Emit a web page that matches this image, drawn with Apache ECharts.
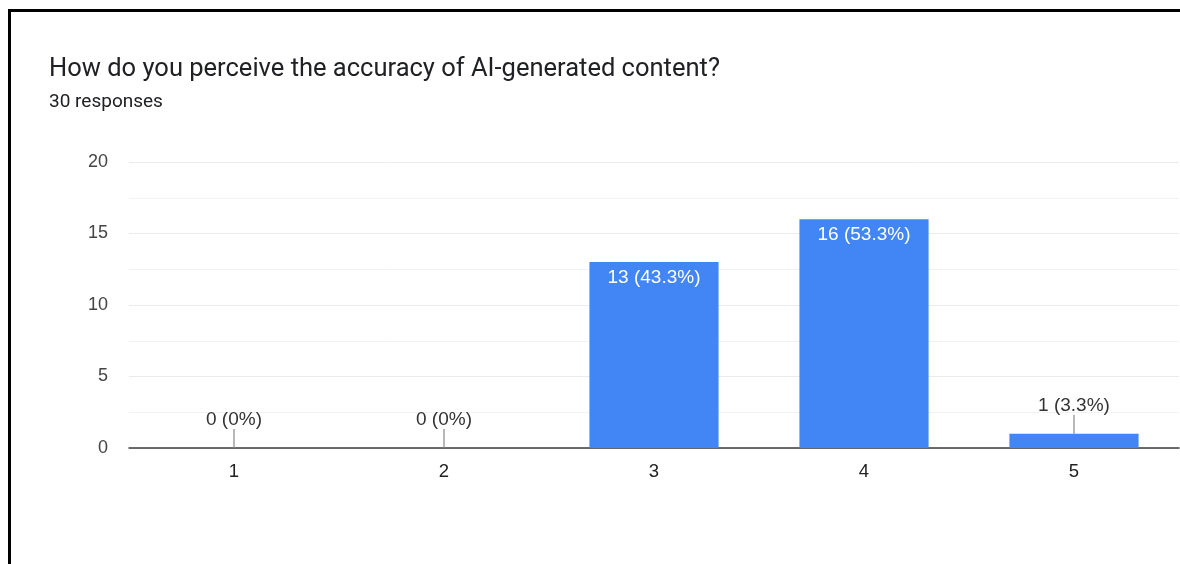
<!DOCTYPE html>
<html>
<head>
<meta charset="utf-8">
<script src="https://cdn.jsdelivr.net/npm/echarts@6/dist/echarts.min.js"></script>
<style>
  html, body { margin: 0; padding: 0; background: #fff; }
  #chart { width: 1180px; height: 564px; position: relative; }
  #frame { position: absolute; left: 8px; top: 9px; right: 0; bottom: 0;
           border-top: 3px solid #000; border-left: 3px solid #000; pointer-events: none; }
</style>
</head>
<body>
<div id="chart"></div>
<div id="frame"></div>
<script>
// Survey question and answer counts
const titleText = 'How do you perceive the accuracy of AI-generated content?';
const subtitleText = '30 responses';
const categories = ['1', '2', '3', '4', '5'];
const counts = [0, 0, 13, 16, 1];
const totalResponses = 30;
const yTicks = [0, 5, 10, 15, 20];

const HEAD_FONT = 'Roboto, Arial, sans-serif';
const FONT = '"Liberation Sans", Arial, sans-serif';
const BLUE = '#4285f4';

function pctLabel(v) {
  const p = Math.round(v / totalResponses * 1000) / 10;
  return v + ' (' + p + '%)';
}

// Bars tall enough to hold their label get it inside; the rest get a leader line above.
const INSIDE_MIN = 3;
const outsideData = counts.map((v, i) => (v < INSIDE_MIN ? [i, v] : null)).filter(Boolean);

const chart = echarts.init(document.getElementById('chart'));
chart.setOption({
  animation: false,
  backgroundColor: '#fff',
  textStyle: { fontFamily: FONT },
  title: [
    { text: titleText, left: 49, top: 57, padding: 0,
      textStyle: { fontFamily: HEAD_FONT, fontSize: 25.5, fontWeight: 'normal', color: '#202124' } },
    { text: subtitleText, left: 49, top: 93, padding: 0,
      textStyle: { fontFamily: HEAD_FONT, fontSize: 19, fontWeight: 'normal', color: '#202124' } }
  ],
  grid: { left: 129, right: 1, top: 162, bottom: 116, containLabel: false },
  xAxis: {
    type: 'category',
    data: categories,
    axisLine: { lineStyle: { color: '#3c3c3c', width: 1.5 } },
    axisTick: { show: false },
    axisLabel: { color: '#222', fontSize: 18.5, fontFamily: FONT, margin: 14 }
  },
  yAxis: {
    type: 'value',
    min: yTicks[0],
    max: yTicks[yTicks.length - 1],
    interval: yTicks[1] - yTicks[0],
    axisLine: { show: false },
    axisTick: { show: false },
    axisLabel: { color: '#444', fontSize: 18, fontFamily: FONT, margin: 21 },
    splitLine: { lineStyle: { color: '#ebebeb', width: 1 } },
    minorTick: { show: false, splitNumber: 2 },
    minorSplitLine: { show: true, lineStyle: { color: '#f2f2f2', width: 1 } }
  },
  series: [
    {
      type: 'bar',
      data: counts,
      barWidth: '61.5%',
      itemStyle: { color: BLUE },
      label: {
        show: true,
        position: 'insideTop',
        distance: 6,
        color: '#fff',
        fontSize: 19,
        fontFamily: FONT,
        formatter: p => (p.value >= INSIDE_MIN ? pctLabel(p.value) : '')
      },
      z: 2
    },
    {
      type: 'custom',
      data: outsideData,
      z: 3,
      renderItem: function (params, api) {
        const x = api.coord([api.value(0), 0])[0];
        const yTop = api.coord([api.value(0), api.value(1)])[1];
        const lineLen = 19;
        return {
          type: 'group',
          children: [
            { type: 'line',
              shape: { x1: x, y1: yTop, x2: x, y2: yTop - lineLen },
              style: { stroke: '#888', lineWidth: 1.2 } },
            { type: 'text',
              style: { x: x, y: yTop - lineLen - 9, text: pctLabel(api.value(1)),
                       textAlign: 'center', textVerticalAlign: 'middle',
                       fill: '#333', fontSize: 19, fontFamily: FONT } }
          ]
        };
      }
    }
  ]
});
</script>
</body>
</html>
